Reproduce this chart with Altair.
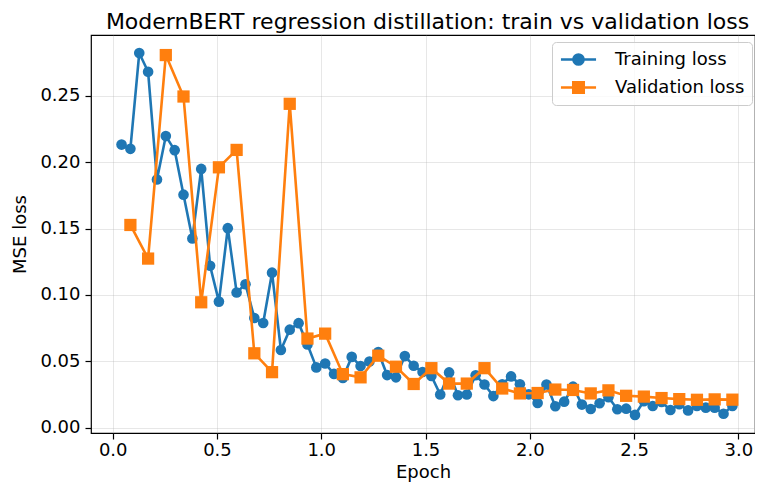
import altair as alt
import pandas as pd

# ---- data ----
train_epoch = [0.0425, 0.0849, 0.1274, 0.1698, 0.2123, 0.2547, 0.2972, 0.3396, 0.3821, 0.4245,
               0.4670, 0.5094, 0.5519, 0.5943, 0.6368, 0.6792, 0.7217, 0.7641, 0.8066, 0.8490,
               0.8915, 0.9339, 0.9764, 1.0188, 1.0613, 1.1037, 1.1462, 1.1886, 1.2311, 1.2735,
               1.3160, 1.3584, 1.4009, 1.4433, 1.4858, 1.5282, 1.5707, 1.6131, 1.6556, 1.6980,
               1.7405, 1.7829, 1.8254, 1.8678, 1.9103, 1.9527, 1.9952, 2.0376, 2.0801, 2.1225,
               2.1650, 2.2074, 2.2499, 2.2923, 2.3348, 2.3772, 2.4197, 2.4621, 2.5046, 2.5470,
               2.5895, 2.6319, 2.6744, 2.7168, 2.7593, 2.8017, 2.8442, 2.8866, 2.9291, 2.9715]
train_loss = [0.2132, 0.2100, 0.2821, 0.2680, 0.1869, 0.2196, 0.2090, 0.1755, 0.1426, 0.1949,
              0.1220, 0.0950, 0.1503, 0.1019, 0.1081, 0.0827, 0.0789, 0.1168, 0.0586, 0.0739,
              0.0788, 0.0627, 0.0455, 0.0484, 0.0406, 0.0375, 0.0534, 0.0465, 0.0499, 0.0570,
              0.0397, 0.0380, 0.0540, 0.0467, 0.0420, 0.0390, 0.0251, 0.0417, 0.0245, 0.0251,
              0.0396, 0.0326, 0.0239, 0.0328, 0.0387, 0.0328, 0.0252, 0.0187, 0.0326, 0.0162,
              0.0197, 0.0310, 0.0175, 0.0142, 0.0185, 0.0230, 0.0140, 0.0144, 0.0097, 0.0201,
              0.0164, 0.0194, 0.0134, 0.0177, 0.0131, 0.0164, 0.0152, 0.0152, 0.0106, 0.0165]

val_epoch = [0.0849, 0.1698, 0.2547, 0.3396, 0.4245, 0.5094, 0.5943, 0.6792, 0.7641, 0.8490,
             0.9339, 1.0188, 1.1037, 1.1886, 1.2735, 1.3584, 1.4433, 1.5282, 1.6131, 1.6980,
             1.7829, 1.8678, 1.9527, 2.0376, 2.1225, 2.2074, 2.2923, 2.3772, 2.4621, 2.5470,
             2.6319, 2.7168, 2.8017, 2.8866, 2.9715]
val_loss = [0.1527, 0.1274, 0.2806, 0.2494, 0.0945, 0.1961, 0.2092, 0.0561, 0.0419, 0.2439,
            0.0672, 0.0709, 0.0404, 0.0380, 0.0543, 0.0460, 0.0330, 0.0449, 0.0333, 0.0333,
            0.0449, 0.0296, 0.0259, 0.0262, 0.0288, 0.0285, 0.0259, 0.0282, 0.0241, 0.0235,
            0.0224, 0.0216, 0.0211, 0.0214, 0.0212]

series_names = ["Training loss", "Validation loss"]
series_colors = ["#1f77b4", "#ff7f0e"]
x_ticks = [0.0, 0.5, 1.0, 1.5, 2.0, 2.5, 3.0]
y_ticks = [0.0, 0.05, 0.10, 0.15, 0.20, 0.25]
chart_title = "ModernBERT regression distillation: train vs validation loss"

FONT = "DejaVu Sans"
FS = 18
W, H = 664, 398

train_df = pd.DataFrame({"epoch": train_epoch, "loss": train_loss})
val_df = pd.DataFrame({"epoch": val_epoch, "loss": val_loss})
legend_df = pd.DataFrame({"series": series_names})
title_df = pd.DataFrame({"title": [chart_title]})

x_enc = alt.X("epoch:Q",
              scale=alt.Scale(domain=[-0.104, 3.080], nice=False, zero=False),
              axis=alt.Axis(values=x_ticks, format=".1f", title="Epoch"))
y_enc = alt.Y("loss:Q",
              scale=alt.Scale(domain=[-0.0039, 0.2957], nice=False, zero=False),
              axis=alt.Axis(values=y_ticks, format=".2f", title="MSE loss"))

def series_layers(df, color, shape, size):
    line = alt.Chart(df).mark_line(color=color, strokeWidth=2.6).encode(x=x_enc, y=y_enc)
    pts = alt.Chart(df).mark_point(shape=shape, filled=True, size=size, color=color,
                                   opacity=1).encode(x=x_enc, y=y_enc)
    return [line, pts]

# legend glyphs: a line segment with the marker on it (unit = 9 px)
circle_path = "M-1.95,0L1.95,0M0.56,0A0.56,0.56,0,1,1,-0.56,0A0.56,0.56,0,1,1,0.56,0Z"
square_path = "M-1.95,0L1.95,0M-0.58,-0.58L0.58,-0.58L0.58,0.58L-0.58,0.58Z"

leg = alt.Legend(title=None, orient="none", legendX=461, legendY=7, symbolSize=324, symbolOffset=9,
                 symbolStrokeWidth=2.6, symbolOpacity=1, labelFontSize=FS, labelFont=FONT,
                 labelColor="black", labelOffset=26, padding=7, rowPadding=7,
                 strokeColor="#cccccc", fillColor="rgba(255,255,255,0.8)", cornerRadius=4)

# invisible (clipped, below the plot) layer that only feeds the legend
legend_layer = alt.Chart(legend_df).mark_point(filled=True, opacity=1, clip=True).encode(
    x=alt.value(300), y=alt.value(H + 30),
    fill=alt.Fill("series:N", scale=alt.Scale(domain=series_names, range=series_colors), legend=leg),
    stroke=alt.Stroke("series:N", scale=alt.Scale(domain=series_names, range=series_colors), legend=leg),
    shape=alt.Shape("series:N", scale=alt.Scale(domain=series_names, range=[circle_path, square_path]), legend=leg),
)

# chart title, centred over the plot area
title_layer = alt.Chart(title_df).mark_text(
    font=FONT, fontSize=22, color="black", align="center", baseline="alphabetic"
).encode(x=alt.value(336.5), y=alt.value(-6.5), text="title:N")

layers = (series_layers(train_df, series_colors[0], "circle", 113)
          + series_layers(val_df, series_colors[1], "square", 150)
          + [legend_layer, title_layer])

chart = alt.layer(*layers).properties(
    width=W, height=H,
    autosize=alt.AutoSizeParams(type="none"),
    padding={"left": 83, "top": 27, "right": 0, "bottom": 52},
).configure_view(
    stroke="black", strokeWidth=1.2
).configure_axis(
    labelFont=FONT, labelFontSize=FS, labelColor="black",
    titleFont=FONT, titleFontSize=FS, titleColor="black", titleFontWeight="normal",
    domain=False, tickColor="black", tickSize=6, tickWidth=1.2,
    grid=True, gridColor="#b0b0b0", gridOpacity=0.3, gridWidth=1,
).configure_axisX(
    labelPadding=2, titlePadding=4
).configure_axisY(
    labelPadding=5, titlePadding=10
)

chart.save("out.html", embed_options={"renderer": "svg", "actions": False})
